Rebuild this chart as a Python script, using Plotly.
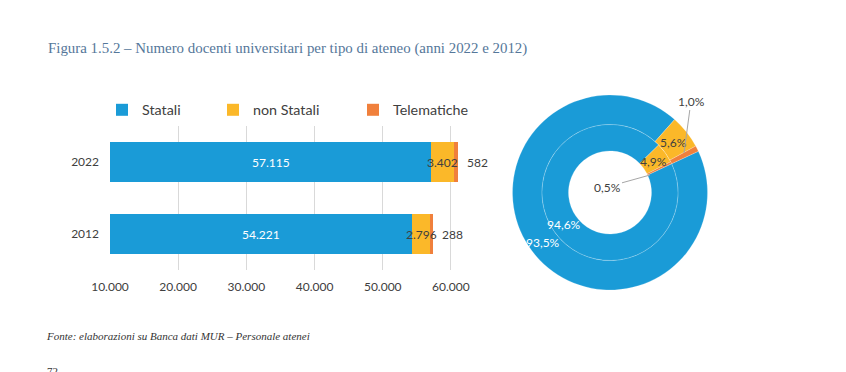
import math
import plotly.graph_objects as go

# ---- data ----
years = ["2022", "2012"]
statali = [57115, 54221]
non_statali = [3402, 2796]
telematiche = [582, 288]
series_names = ["Statali", "non Statali", "Telematiche"]
colors = ["#1a9bd7", "#fbb829", "#f0803c"]
x_ticks = [10000, 20000, 30000, 40000, 50000, 60000]
x_range = [10000, 62800]

title_text = "Figura 1.5.2 – Numero docenti universitari per tipo di ateneo (anni 2022 e 2012)"
source_text = "Fonte: elaborazioni su Banca dati MUR – Personale atenei"
page_no = "72"

# the page body has an 8px margin: figure is placed at (8, 8) of the 846x372 window
OFF = 8
FW, FH = 846 - OFF, 372 - OFF
FONT = "Lato"
TXT = "#404040"

def px(sx):  # window pixel x -> paper fraction
    return (sx - OFF) / FW

def py(sy):  # window pixel y (from top) -> paper fraction (from bottom)
    return (FH + OFF - sy) / FH

fig = go.Figure()

def fmt_int(v):
    return f"{v:,}".replace(",", ".")

def pct(v, tot):
    return f"{v / tot * 100:.1f}%".replace(".", ",")

annotations = []

# ---- stacked horizontal bars ----
vals = [statali, non_statali, telematiche]
for i, name in enumerate(series_names):
    fig.add_trace(go.Bar(
        y=years, x=vals[i], name=name, orientation="h",
        marker=dict(color=colors[i], line=dict(width=0)),
        textposition="none", cliponaxis=(i != 2),
        legend=["legend", "legend2", "legend3"][i],
        hoverinfo="x+name",
    ))

# value labels (drawn above all bars, as in the original)
for k in range(len(years)):
    s, n, t = statali[k], non_statali[k], telematiche[k]
    annotations.append(dict(text=fmt_int(s), x=(x_range[0] + s) / 2, y=k, xref="x", yref="y",
                            xanchor="center", showarrow=False,
                            font=dict(family=FONT, size=12, color="white")))
    annotations.append(dict(text=fmt_int(n), x=s + n / 2, y=k, xref="x", yref="y",
                            xanchor="center", showarrow=False,
                            font=dict(family=FONT, size=12, color=TXT)))
    annotations.append(dict(text=fmt_int(t), x=s + n + t, y=k, xref="x", yref="y",
                            xanchor="left", xshift=7, showarrow=False,
                            font=dict(family=FONT, size=12, color=TXT)))

# ---- double donut (outer 2022, inner 2012) ----
cx, cy = 610, 192.5
r_out, r_mid, r_in = 97.5, 68, 41.5
ROT = 65

def dom(r):
    return dict(x=[px(cx - r), px(cx + r)], y=[py(cy + r), py(cy - r)])

rings = [("2022", r_out, r_mid), ("2012", r_mid, r_in)]
label_colors = ["white", TXT]
for yr, ro, ri in rings:
    idx = years.index(yr)
    v = [statali[idx], non_statali[idx], telematiche[idx]]
    fig.add_trace(go.Pie(
        labels=series_names, values=v,
        domain=dom(ro), hole=ri / ro, sort=False, direction="clockwise", rotation=ROT,
        marker=dict(colors=colors, line=dict(color="rgba(255,255,255,0.35)", width=0.6)),
        textinfo="none", showlegend=False, name=yr, hoverinfo="label+percent+name",
    ))
    tot = sum(v)
    a0 = ROT
    rm = (ro + ri) / 2
    for j in range(2):
        span = v[j] / tot * 360
        mid = math.radians(a0 + span / 2)
        annotations.append(dict(text=pct(v[j], tot),
                                x=px(cx - 1 + rm * math.sin(mid)), y=py(cy + 1 - rm * math.cos(mid)),
                                xref="paper", yref="paper", xanchor="center", yanchor="middle",
                                showarrow=False,
                                font=dict(family=FONT, size=12, color=label_colors[j])))
        a0 += span

tot22 = statali[0] + non_statali[0] + telematiche[0]
tot12 = statali[1] + non_statali[1] + telematiche[1]

annotations += [
    dict(text=pct(telematiche[0], tot22), x=px(684), y=py(153), xref="paper", yref="paper",
         xanchor="center", yanchor="middle",
         ax=7, ay=-52, showarrow=True, arrowhead=0, arrowwidth=1, arrowcolor="#a6a6a6",
         font=dict(family=FONT, size=12, color=TXT)),
    dict(text=pct(telematiche[1], tot12), x=px(650), y=py(175), xref="paper", yref="paper",
         xanchor="center", yanchor="middle",
         ax=-43, ay=12, showarrow=True, arrowhead=0, arrowwidth=1, arrowcolor="#a6a6a6",
         font=dict(family=FONT, size=12, color=TXT)),
    dict(text=title_text, x=px(46), y=py(48), xref="paper", yref="paper",
         xanchor="left", yanchor="middle", showarrow=False,
         font=dict(family="Liberation Serif", size=14.9, color="#55779a")),
    dict(text=f"<i>{source_text}</i>", x=px(44), y=py(336), xref="paper", yref="paper",
         xanchor="left", yanchor="middle", showarrow=False,
         font=dict(family="Liberation Serif", size=11, color="#333333")),
    dict(text=page_no, x=px(45), y=py(363), xref="paper", yref="paper",
         xanchor="left", yanchor="top", showarrow=False,
         font=dict(family="Liberation Serif", size=11, color="#333333")),
]

leg_common = dict(orientation="h", yanchor="middle", y=py(110), xanchor="left",
                  font=dict(family=FONT, size=14.3, color=TXT), bgcolor="rgba(0,0,0,0)",
                  itemclick=False, itemdoubleclick=False)

fig.update_layout(
    width=FW, height=FH,
    margin=dict(l=0, r=0, t=0, b=0, autoexpand=False),
    paper_bgcolor="white", plot_bgcolor="white",
    barmode="stack", bargap=0.444,
    separators=",.",
    font=dict(family=FONT, size=12, color=TXT),
    xaxis=dict(domain=[px(110), px(470)], range=x_range, tickvals=x_ticks,
               tickformat=",", showgrid=True, gridcolor="#d9d9d9", gridwidth=1,
               zeroline=False, showline=False, ticks="", ticklabelstandoff=8,
               automargin=False,
               tickfont=dict(family=FONT, size=12, color=TXT), fixedrange=True),
    yaxis=dict(domain=[py(270), py(126)], type="category", autorange="reversed",
               showgrid=False, zeroline=False, showline=False, ticks="",
               ticklabelstandoff=10, automargin=False,
               tickfont=dict(family=FONT, size=12, color=TXT), fixedrange=True),
    legend=dict(x=px(102), **leg_common),
    legend2=dict(x=px(213), **leg_common),
    legend3=dict(x=px(353), **leg_common),
    annotations=annotations,
    showlegend=True,
)

fig.write_html("out.html")
